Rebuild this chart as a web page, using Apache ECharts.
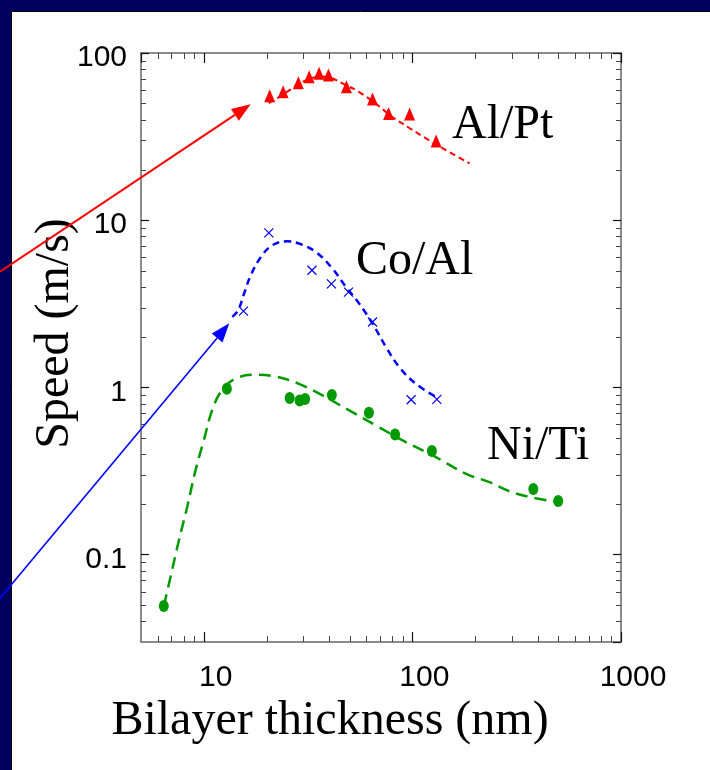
<!DOCTYPE html>
<html>
<head>
<meta charset="utf-8">
<script src="https://cdn.jsdelivr.net/npm/echarts@6/dist/echarts.min.js"></script>
<style>
html, body { margin: 0; padding: 0; background: #fff; }
#chart { width: 710px; height: 770px; }
</style>
</head>
<body>
<div id="chart"></div>
<script>
const alPtThickness = [20.7, 24.0, 28.4, 32.0, 35.7, 39.6, 48.3, 64.4, 76.9, 97.0, 130]
const alPtSpeed = [55.5, 58.7, 66.4, 72.1, 75.6, 73.8, 62.8, 53.1, 43.5, 43.2, 29.8]
const alPtFitThickness = [20.5, 24.2, 28.0, 31.9, 36.5, 40.8, 47.0, 55.6, 67.0, 80.2, 96.7, 120, 151, 188]
const alPtFitSpeed = [50.2, 56.8, 64.3, 69.8, 72.3, 70.8, 65.1, 58.4, 49.6, 41.4, 35.6, 30.1, 25.5, 21.9]

const coAlThickness = [15.5, 20.5, 33.0, 40.9, 49.4, 64.4, 98.6, 131]
const coAlSpeed = [2.86, 8.39, 5.02, 4.16, 3.71, 2.46, 0.843, 0.847]
const coAlFitThickness = [13.7, 14.6, 15.6, 16.8, 18.8, 21.3, 25.1, 28.6, 34.4, 41.4, 48.0, 55.6, 64.4, 74.8, 86.6, 104, 130]
const coAlFitSpeed = [2.64, 2.89, 3.64, 4.69, 6.03, 7.08, 7.48, 7.25, 6.46, 5.13, 3.99, 3.17, 2.41, 1.74, 1.32, 1.05, 0.875]

const niTiThickness = [6.43, 12.9, 25.8, 28.8, 30.6, 41.1, 61.9, 82.6, 124, 380, 500]
const niTiSpeed = [0.0493, 0.982, 0.863, 0.836, 0.851, 0.899, 0.705, 0.523, 0.416, 0.247, 0.209]
const niTiFitThickness = [6.43, 6.92, 7.59, 8.32, 9.12, 10, 10.96, 12.2, 14.2, 17.7, 22.1, 28.6, 37.1, 49.8, 66.8, 89.8, 125, 181, 234, 292, 378, 500]
const niTiFitSpeed = [0.0493, 0.0731, 0.121, 0.192, 0.318, 0.482, 0.728, 0.959, 1.13, 1.19, 1.16, 1.05, 0.895, 0.728, 0.592, 0.482, 0.392, 0.304, 0.271, 0.239, 0.219, 0.206]

const xMinorTicks = [6, 7, 8, 9, 20, 30, 40, 50, 60, 70, 80, 90, 200, 300, 400, 500, 600, 700, 800, 900]
const yMinorTicks = [0.04, 0.05, 0.06, 0.07, 0.08, 0.09, 0.2, 0.3, 0.4, 0.5, 0.6, 0.7, 0.8, 0.9,
  2, 3, 4, 5, 6, 7, 8, 9, 20, 30, 40, 50, 60, 70, 80, 90]

const X_MIN = 5, X_MAX = 1000, Y_MIN = 0.03, Y_MAX = 100
const NAVY = '#00005f'

function zip(xs, ys) {
  return xs.map((x, i) => [x, ys[i]])
}

function fmt(v) {
  return String(Number(Number(v).toPrecision(6)))
}

const tickStyle = { stroke: '#444', lineWidth: 1 }

function xMinorTick(params, api) {
  const cs = params.coordSys
  const x = Math.round(api.coord([api.value(0), 1])[0]) + 0.5
  const bottom = cs.y + cs.height
  return {
    type: 'group',
    children: [
      { type: 'line', shape: { x1: x, y1: bottom, x2: x, y2: bottom - 6 }, style: tickStyle },
      { type: 'line', shape: { x1: x, y1: cs.y, x2: x, y2: cs.y + 6 }, style: tickStyle }
    ]
  }
}

function yMinorTick(params, api) {
  const cs = params.coordSys
  const y = Math.round(api.coord([10, api.value(1)])[1]) + 0.5
  const right = cs.x + cs.width
  return {
    type: 'group',
    children: [
      { type: 'line', shape: { x1: cs.x, y1: y, x2: cs.x + 5, y2: y }, style: tickStyle },
      { type: 'line', shape: { x1: right, y1: y, x2: right - 5, y2: y }, style: tickStyle }
    ]
  }
}

function arrow(x1, y1, x2, y2, color, width) {
  const ang = Math.atan2(y2 - y1, x2 - x1)
  const len = 19, half = 7
  const bx = x2 - len * Math.cos(ang), by = y2 - len * Math.sin(ang)
  const px = -Math.sin(ang) * half, py = Math.cos(ang) * half
  return [
    { type: 'line', z: 100, shape: { x1, y1, x2: bx, y2: by }, style: { stroke: color, lineWidth: width } },
    { type: 'polygon', z: 100, shape: { points: [[x2, y2], [bx + px, by + py], [bx - px, by - py]] }, style: { fill: color } }
  ]
}

function label(text, x, y) {
  return {
    type: 'text', z: 90, x, y,
    style: { text, fontSize: 48, fontFamily: 'Liberation Serif', fill: '#000', verticalAlign: 'middle', align: 'left' }
  }
}

const axisLine = { show: true, lineStyle: { color: '#666', width: 1.5 } }
const axisTick = { show: true, inside: true, length: 10, lineStyle: { color: '#111', width: 1.2 } }
const tickFont = { fontFamily: 'Liberation Sans', fontSize: 30, color: '#000' }

const chart = echarts.init(document.getElementById('chart'))

chart.setOption({
  backgroundColor: '#fff',
  animation: false,
  grid: { left: 141, right: 89, top: 53, bottom: 128, containLabel: false },
  xAxis: [
    {
      type: 'log', min: X_MIN, max: X_MAX, position: 'bottom',
      axisLine, axisTick, splitLine: { show: false },
      axisLabel: { ...tickFont, margin: 21, showMinLabel: false, padding: [0, 0, 0, 24], formatter: fmt },
      name: 'Bilayer thickness (nm)',
      nameLocation: 'middle',
      nameGap: 55,
      nameMoveOverlap: false,
      nameTextStyle: { fontFamily: 'Liberation Serif', fontSize: 48, color: '#000', padding: [0, 102, 0, 0] }
    },
    {
      type: 'log', min: X_MIN, max: X_MAX, position: 'top',
      axisLine, axisTick, splitLine: { show: false }, axisLabel: { show: false }
    }
  ],
  yAxis: [
    {
      type: 'log', min: Y_MIN, max: Y_MAX, position: 'left',
      axisLine, axisTick: { ...axisTick, length: 8 }, splitLine: { show: false },
      axisLabel: {
        margin: 14, showMinLabel: false,
        formatter: v => '{a|' + fmt(v) + '}',
        rich: { a: { ...tickFont, padding: [10, 0, 0, 0] } }
      },
      name: 'Speed (m/s)',
      nameLocation: 'middle',
      nameGap: 62,
      nameMoveOverlap: false,
      nameTextStyle: { fontFamily: 'Liberation Serif', fontSize: 48, color: '#000', padding: [0, 0, 0, 28] }
    },
    {
      type: 'log', min: Y_MIN, max: Y_MAX, position: 'right',
      axisLine, axisTick: { ...axisTick, length: 8 }, splitLine: { show: false }, axisLabel: { show: false }
    }
  ],
  series: [
    {
      type: 'custom', renderItem: xMinorTick, silent: true,
      data: xMinorTicks.map(v => [v, 1])
    },
    {
      type: 'custom', renderItem: yMinorTick, silent: true,
      data: yMinorTicks.map(v => [10, v])
    },
    {
      name: 'Al/Pt fit', type: 'line', data: zip(alPtFitThickness, alPtFitSpeed),
      smooth: 0.4, symbol: 'none', lineStyle: { color: '#ff0000', width: 2, type: [6, 4] }
    },
    {
      name: 'Co/Al fit', type: 'line', data: zip(coAlFitThickness, coAlFitSpeed),
      smooth: 0.4, symbol: 'none', lineStyle: { color: '#0000ff', width: 2.5, type: [7, 5] }
    },
    {
      name: 'Ni/Ti fit', type: 'line', data: zip(niTiFitThickness, niTiFitSpeed),
      smooth: 0.4, symbol: 'none', lineStyle: { color: '#009900', width: 2.5, type: [12, 7] }
    },
    {
      name: 'Al/Pt', type: 'scatter', data: zip(alPtThickness, alPtSpeed),
      symbol: 'triangle', symbolSize: [11, 13], itemStyle: { color: '#ff0000', opacity: 1 }
    },
    {
      name: 'Co/Al', type: 'scatter', data: zip(coAlThickness, coAlSpeed),
      symbol: 'path://M0,0L10,10M10,0L0,10', symbolSize: 9,
      itemStyle: { color: 'none', borderColor: '#0000ee', borderWidth: 1.2, opacity: 1 }
    },
    {
      name: 'Ni/Ti', type: 'scatter', data: zip(niTiThickness, niTiSpeed),
      symbol: 'circle', symbolSize: [10, 12], itemStyle: { color: '#009900', opacity: 1 }
    }
  ],
  graphic: [
    { type: 'rect', z: 50, shape: { x: 0, y: 0, width: 710, height: 11 }, style: { fill: NAVY } },
    { type: 'rect', z: 50, shape: { x: 0, y: 0, width: 11, height: 770 }, style: { fill: NAVY } },
    { type: 'polyline', z: 51, shape: { points: [[11.5, 770], [11.5, 11.5], [710, 11.5]] }, style: { stroke: '#000', lineWidth: 1, fill: null } },
    ...arrow(0, 271.7, 250.7, 104.3, '#ff0000', 2),
    ...arrow(0, 598.3, 229.3, 323.3, '#0000ff', 1.6),
    label('Al/Pt', 452, 125),
    label('Co/Al', 356, 261),
    label('Ni/Ti', 487, 446)
  ]
})
</script>
</body>
</html>
